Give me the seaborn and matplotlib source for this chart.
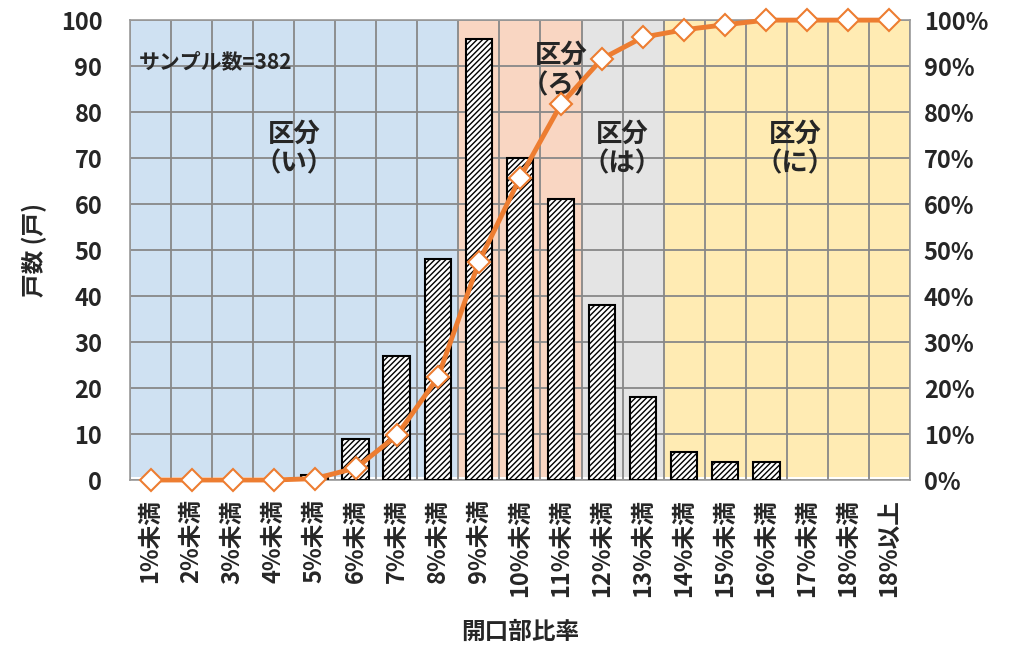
import numpy as np
import pandas as pd
import matplotlib
matplotlib.use('Agg')
import matplotlib.pyplot as plt
import matplotlib.ticker as ticker
import seaborn as sns

# データ
categories = ['1%未満', '2%未満', '3%未満', '4%未満', '5%未満', '6%未満', '7%未満',
              '8%未満', '9%未満', '10%未満', '11%未満', '12%未満', '13%未満',
              '14%未満', '15%未満', '16%未満', '17%未満', '18%未満', '18%以上']
counts = [0, 0, 0, 0, 1, 9, 27, 48, 96, 70, 61, 38, 18, 6, 4, 4, 0, 0, 0]
cum_pct = [0, 0, 0, 0, 0.3, 2.6, 9.7, 22.3, 47.4, 65.7, 81.7, 91.6, 96.3,
           97.9, 99.0, 100, 100, 100, 100]

zones = ['区分\n（い）', '区分\n（ろ）', '区分\n（は）', '区分\n（に）']
zone_edges = [-0.5, 7.5, 10.5, 12.5, 18.5]
zone_colors = ['#CFE1F2', '#F9D6C2', '#E4E4E4', '#FFEBB3']

df = pd.DataFrame({'cat': categories, 'count': counts, 'cum': cum_pct})

sns.set_style('white')
plt.rcParams['font.family'] = ['Noto Sans CJK JP', 'DejaVu Sans']
plt.rcParams['font.weight'] = 'bold'
plt.rcParams['hatch.linewidth'] = 1.0

fig = plt.figure(figsize=(10.2, 6.49), dpi=100)
ax = fig.add_axes([0.1275, 0.2604, 0.7645, 0.7086])

# 区分の背景
for i, c in enumerate(zone_colors):
    ax.axvspan(zone_edges[i], zone_edges[i + 1], ymin=0.006, facecolor=c, zorder=0, lw=0)

sns.barplot(ax=ax, data=df, x='cat', y='count', color='white', edgecolor='black',
            linewidth=1.5, width=0.65, hatch='//////', zorder=3)
for bar in ax.containers[0]:
    bar.set_facecolor('white')
    if bar.get_height() == 0:
        bar.set_visible(False)

ax.set_xlim(-0.5, len(categories) - 0.5)
ax.set_ylim(0, 100)
ax.yaxis.set_major_locator(ticker.MultipleLocator(10))
ax.xaxis.set_minor_locator(ticker.FixedLocator(np.arange(-0.5, len(categories), 1)))
ax.grid(axis='y', which='major', color='#888888', lw=1.3, zorder=1)
ax.grid(axis='x', which='minor', color='#888888', lw=1.3, zorder=1)
ax.set_axisbelow(True)
for s in ax.spines.values():
    s.set_color('#999999')
    s.set_linewidth(1.2)

ax.tick_params(axis='x', rotation=90, labelsize=17, length=0, pad=14)
ax.tick_params(axis='y', labelsize=17, length=0, pad=20)
ax.tick_params(which='minor', length=0)
ax.set_xlabel('開口部比率', fontsize=17, fontweight='bold', labelpad=16)
ax.set_ylabel('戸数 (戸)', fontsize=17, fontweight='bold', labelpad=10)

# 累積割合
ax2 = ax.twinx()
ax2.plot(np.arange(len(categories)), df['cum'], color='#ED7D31', lw=3.5,
         marker='D', markersize=11, markerfacecolor='white',
         markeredgecolor='#ED7D31', markeredgewidth=1.5, clip_on=False, zorder=5)
ax2.set_ylim(0, 100)
ax2.yaxis.set_major_locator(ticker.MultipleLocator(10))
ax2.yaxis.set_major_formatter(ticker.StrMethodFormatter('{x:.0f}%'))
ax2.tick_params(axis='y', labelsize=17, length=0, pad=10)
for s in ax2.spines.values():
    s.set_visible(False)

ax.text(-0.28, 91, 'サンプル数=382', fontsize=15, fontweight='bold', va='center', ha='left', zorder=6)
zone_pos = [(3.5, 72), (10.0, 89), (11.5, 72), (15.7, 72)]
for (x, y), t in zip(zone_pos, zones):
    ax.text(x, y, t, fontsize=19, fontweight='bold', ha='center', va='center',
            linespacing=1.15, zorder=6)

fig.savefig('out.png', dpi=100)
